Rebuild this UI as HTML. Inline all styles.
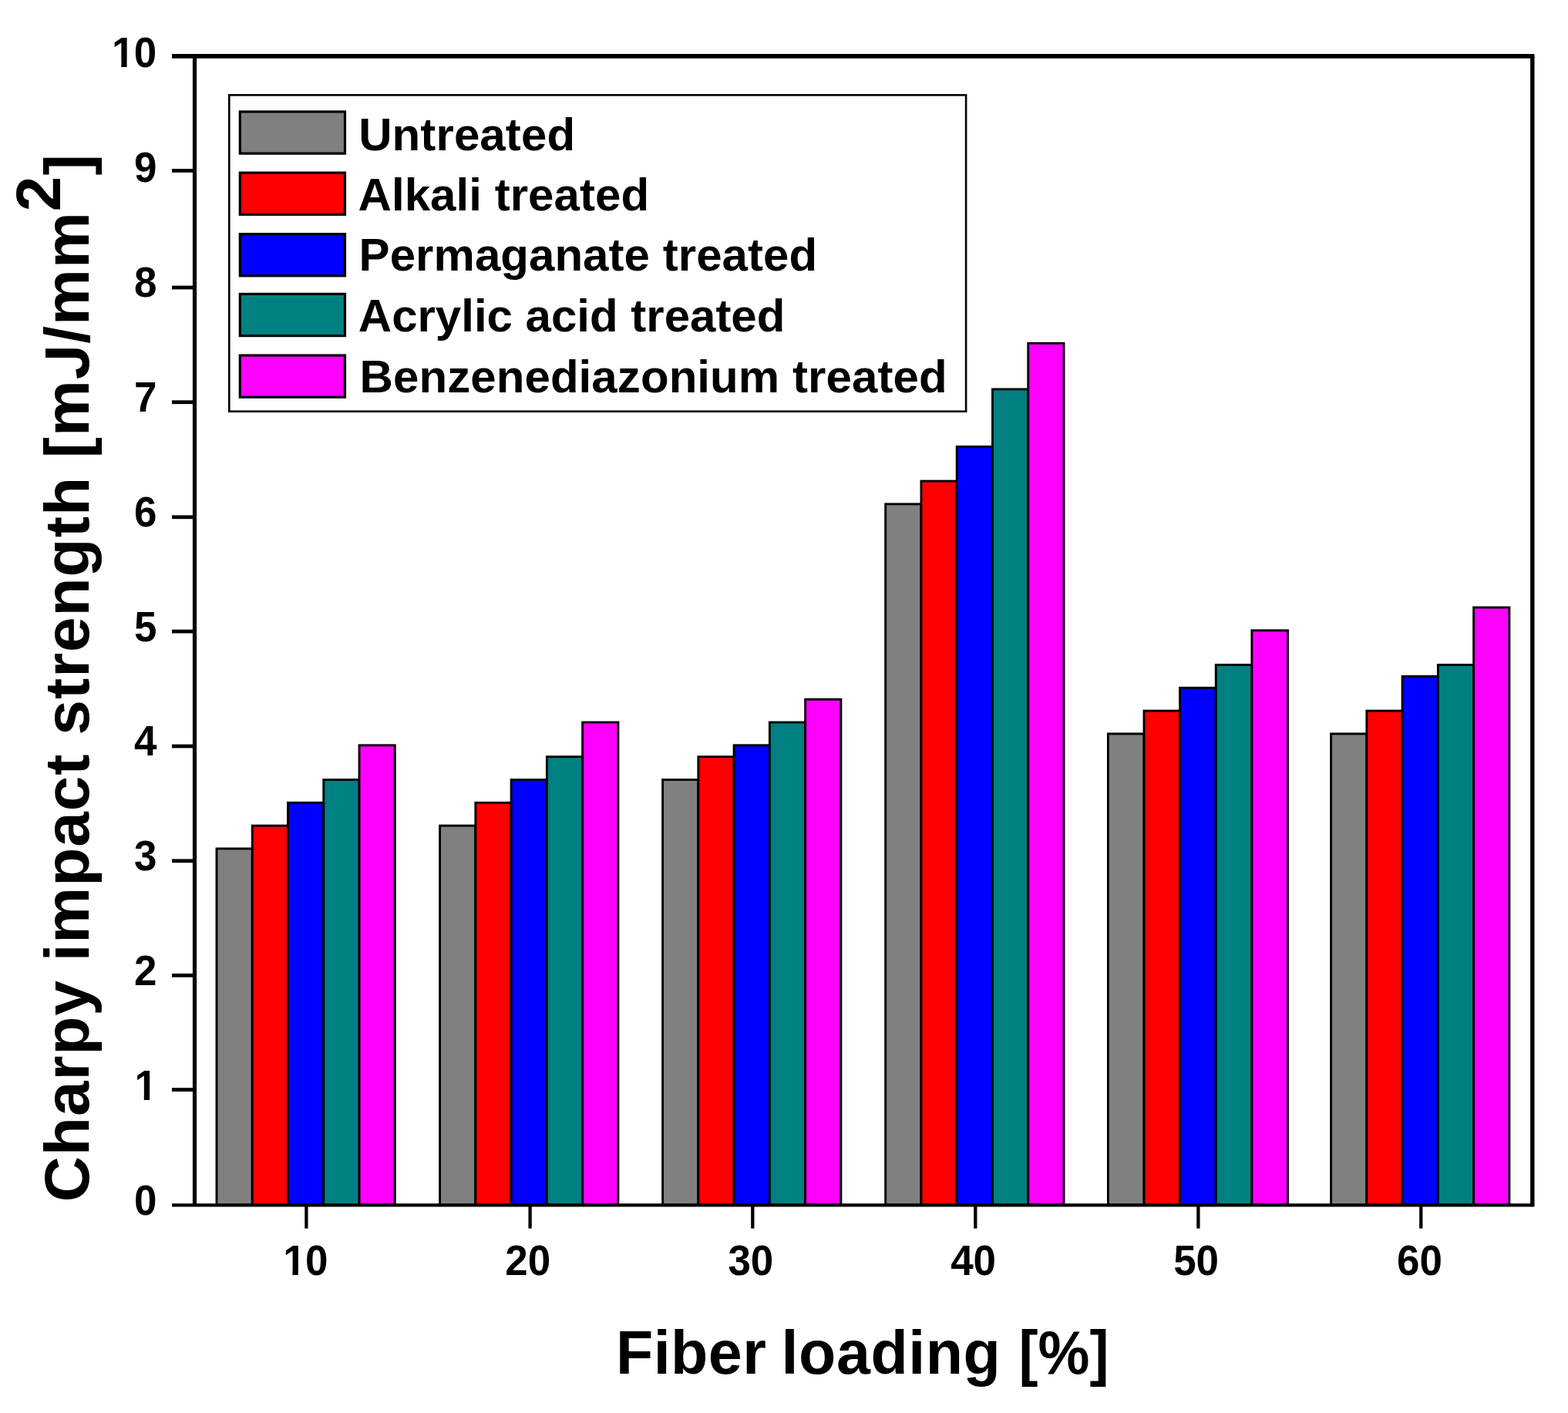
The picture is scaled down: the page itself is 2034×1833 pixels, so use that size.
<!DOCTYPE html>
<html lang="en"><head><meta charset="utf-8"><title>Charpy impact strength vs fiber loading</title>
<style>
html,body{margin:0;padding:0;background:#fff;}
body{width:2034px;height:1833px;overflow:hidden;}
svg{display:block;filter:blur(0.6px);}
text{font-family:"Liberation Sans",sans-serif;font-weight:bold;fill:#000;}
</style></head><body>
<svg width="2034" height="1833" viewBox="0 0 2034 1833">
<rect width="2034" height="1833" fill="#fff"/>
<g stroke="#000" stroke-width="2.9" stroke-linejoin="miter">
<rect x="281.00" y="1100.90" width="46.26" height="462.60" fill="#808080"/>
<rect x="327.26" y="1071.10" width="46.26" height="492.40" fill="#ff0000"/>
<rect x="373.52" y="1041.30" width="46.26" height="522.20" fill="#0000ff"/>
<rect x="419.78" y="1011.50" width="46.26" height="552.00" fill="#008080"/>
<rect x="466.04" y="966.80" width="46.26" height="596.70" fill="#ff00ff"/>
<rect x="570.60" y="1071.10" width="46.26" height="492.40" fill="#808080"/>
<rect x="616.86" y="1041.30" width="46.26" height="522.20" fill="#ff0000"/>
<rect x="663.12" y="1011.50" width="46.26" height="552.00" fill="#0000ff"/>
<rect x="709.38" y="981.70" width="46.26" height="581.80" fill="#008080"/>
<rect x="755.64" y="937.00" width="46.26" height="626.50" fill="#ff00ff"/>
<rect x="859.60" y="1011.50" width="46.26" height="552.00" fill="#808080"/>
<rect x="905.86" y="981.70" width="46.26" height="581.80" fill="#ff0000"/>
<rect x="952.12" y="966.80" width="46.26" height="596.70" fill="#0000ff"/>
<rect x="998.38" y="937.00" width="46.26" height="626.50" fill="#008080"/>
<rect x="1044.64" y="907.20" width="46.26" height="656.30" fill="#ff00ff"/>
<rect x="1148.70" y="653.90" width="46.26" height="909.60" fill="#808080"/>
<rect x="1194.96" y="624.10" width="46.26" height="939.40" fill="#ff0000"/>
<rect x="1241.22" y="579.40" width="46.26" height="984.10" fill="#0000ff"/>
<rect x="1287.48" y="504.90" width="46.26" height="1058.60" fill="#008080"/>
<rect x="1333.74" y="445.30" width="46.26" height="1118.20" fill="#ff00ff"/>
<rect x="1437.40" y="951.90" width="46.62" height="611.60" fill="#808080"/>
<rect x="1484.02" y="922.10" width="46.62" height="641.40" fill="#ff0000"/>
<rect x="1530.64" y="892.30" width="46.62" height="671.20" fill="#0000ff"/>
<rect x="1577.26" y="862.50" width="46.62" height="701.00" fill="#008080"/>
<rect x="1623.88" y="817.80" width="46.62" height="745.70" fill="#ff00ff"/>
<rect x="1726.60" y="951.90" width="46.26" height="611.60" fill="#808080"/>
<rect x="1772.86" y="922.10" width="46.26" height="641.40" fill="#ff0000"/>
<rect x="1819.12" y="877.40" width="46.26" height="686.10" fill="#0000ff"/>
<rect x="1865.38" y="862.50" width="46.26" height="701.00" fill="#008080"/>
<rect x="1911.64" y="788.00" width="46.26" height="775.50" fill="#ff00ff"/>
</g>
<g stroke="#000" fill="none" stroke-linecap="butt">
<line x1="223" y1="72.9" x2="1990.4" y2="72.9" stroke-width="5.6"/>
<line x1="223" y1="1563.3" x2="1990.4" y2="1563.3" stroke-width="4.2"/>
<line x1="252.5" y1="72.9" x2="252.5" y2="1563.3" stroke-width="5.2"/>
<line x1="1987.8" y1="72.9" x2="1987.8" y2="1563.3" stroke-width="5.4"/>
</g>
<g stroke="#000" stroke-width="4.8">
<line x1="223" y1="1413.6" x2="252" y2="1413.6"/>
<line x1="223" y1="1265.3" x2="252" y2="1265.3"/>
<line x1="223" y1="1116.8" x2="252" y2="1116.8"/>
<line x1="223" y1="968.0" x2="252" y2="968.0"/>
<line x1="223" y1="819.1" x2="252" y2="819.1"/>
<line x1="223" y1="670.8" x2="252" y2="670.8"/>
<line x1="223" y1="521.7" x2="252" y2="521.7"/>
<line x1="223" y1="373.0" x2="252" y2="373.0"/>
<line x1="223" y1="221.4" x2="252" y2="221.4"/>
</g><g stroke="#000" stroke-width="4.3">
<line x1="397.4" y1="1563" x2="397.4" y2="1593.6"/>
<line x1="687.6" y1="1563" x2="687.6" y2="1593.6"/>
<line x1="976.3" y1="1563" x2="976.3" y2="1593.6"/>
<line x1="1265.3" y1="1563" x2="1265.3" y2="1593.6"/>
<line x1="1554.4" y1="1563" x2="1554.4" y2="1593.6"/>
<line x1="1843.3" y1="1563" x2="1843.3" y2="1593.6"/>
</g>
<g font-size="56.0">
<g transform="translate(203.3,1576.2) scale(0.945,1)"><text x="-31.14" y="0">0</text></g>
<g transform="translate(203.3,1427.2) scale(0.945,1)"><text x="-30.54" y="0">1</text><rect x="-28.30" y="-6.54" width="10.83" height="8.04" fill="#fff"/><rect x="-9.79" y="-6.54" width="9.82" height="8.04" fill="#fff"/></g>
<g transform="translate(203.3,1278.3) scale(0.945,1)"><text x="-31.14" y="0">2</text></g>
<g transform="translate(203.3,1129.4) scale(0.945,1)"><text x="-31.14" y="0">3</text></g>
<g transform="translate(203.3,980.4) scale(0.945,1)"><text x="-31.14" y="0">4</text></g>
<g transform="translate(203.3,831.5) scale(0.945,1)"><text x="-31.14" y="0">5</text></g>
<g transform="translate(203.3,682.5) scale(0.945,1)"><text x="-31.14" y="0">6</text></g>
<g transform="translate(203.3,533.6) scale(0.945,1)"><text x="-31.14" y="0">7</text></g>
<g transform="translate(203.3,384.6) scale(0.945,1)"><text x="-31.14" y="0">8</text></g>
<g transform="translate(203.3,235.7) scale(0.945,1)"><text x="-31.14" y="0">9</text></g>
<g transform="translate(203.3,86.7) scale(0.945,1)"><text x="-61.69" y="0">1<tspan dx="-0.6">0</tspan></text><rect x="-59.45" y="-6.54" width="10.83" height="8.04" fill="#fff"/><rect x="-40.94" y="-6.54" width="9.82" height="8.04" fill="#fff"/></g>
<g transform="translate(396.0,1654.4) scale(0.945,1)"><text x="-30.54" y="0">1<tspan dx="-0.6">0</tspan></text><rect x="-28.30" y="-6.54" width="10.83" height="8.04" fill="#fff"/><rect x="-9.79" y="-6.54" width="9.82" height="8.04" fill="#fff"/></g>
<g transform="translate(684.7,1654.4) scale(0.945,1)"><text x="-31.14" y="0">20</text></g>
<g transform="translate(973.8,1654.4) scale(0.945,1)"><text x="-31.14" y="0">30</text></g>
<g transform="translate(1262.6,1654.4) scale(0.945,1)"><text x="-31.14" y="0">40</text></g>
<g transform="translate(1551.6,1654.4) scale(0.945,1)"><text x="-31.14" y="0">50</text></g>
<g transform="translate(1841.4,1654.4) scale(0.945,1)"><text x="-31.14" y="0">60</text></g>
</g>
<text y="1782.3" font-size="79"><tspan x="798.9" letter-spacing="0.5">Fiber</tspan> <tspan x="1013.6" letter-spacing="0.55">loading</tspan></text>
<text transform="translate(1321.4,1782.3) scale(0.953,1)" font-size="79">[%]</text>
<text transform="translate(115.3,1559.3) rotate(-90)" font-size="82" textLength="1359" lengthAdjust="spacing">Charpy impact strength [mJ/mm<tspan dy="-37.5">2</tspan><tspan dy="37.5">]</tspan></text>
<rect transform="translate(115.3,1559.3) rotate(-90)" x="1082.60" y="-57.92" width="12.75" height="12.65" fill="#fff"/>
<rect x="297.3" y="123.3" width="955.8" height="410.4" fill="#fff" stroke="#000" stroke-width="2.6"/>
<rect x="311.3" y="144.9" width="136.2" height="54.2" fill="#808080" stroke="#000" stroke-width="3.2"/>
<text x="465.2" y="194.8" font-size="60" letter-spacing="0.1">Untreated</text>
<rect x="311.3" y="224.1" width="136.2" height="54.2" fill="#ff0000" stroke="#000" stroke-width="3.2"/>
<text x="464.6" y="272.8" font-size="60" letter-spacing="0.05">Alkali treated</text>
<rect x="311.3" y="303.6" width="136.2" height="54.2" fill="#0000ff" stroke="#000" stroke-width="3.2"/>
<text x="465.6" y="350.8" font-size="60" letter-spacing="0.05">Permaganate treated</text>
<rect x="311.3" y="381.4" width="136.2" height="54.2" fill="#008080" stroke="#000" stroke-width="3.2"/>
<text x="464.8" y="429.8" font-size="60" letter-spacing="0.0">Acrylic acid treated</text>
<rect x="311.3" y="461.0" width="136.2" height="54.2" fill="#ff00ff" stroke="#000" stroke-width="3.2"/>
<text x="466.6" y="508.8" font-size="60" letter-spacing="0.08">Benzenediazonium treated</text>
</svg>
</body></html>
